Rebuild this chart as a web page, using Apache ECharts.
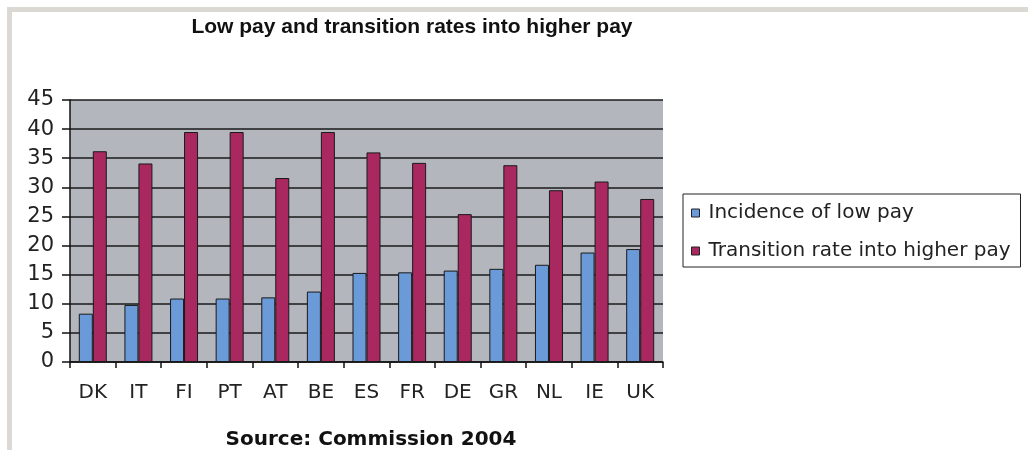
<!DOCTYPE html>
<html>
<head>
<meta charset="utf-8">
<script src="https://cdn.jsdelivr.net/npm/echarts@6/dist/echarts.min.js"></script>
<style>
  html, body { margin: 0; padding: 0; background: #fff; }
  #chart { width: 1028px; height: 450px; }
</style>
</head>
<body>
<div id="chart"></div>
<script>
// data
var countries = ['DK', 'IT', 'FI', 'PT', 'AT', 'BE', 'ES', 'FR', 'DE', 'GR', 'NL', 'IE', 'UK'];
var lowPay = [8.3, 9.8, 10.9, 10.9, 11.1, 12.1, 15.3, 15.4, 15.7, 16.0, 16.7, 18.8, 19.4];
var transition = [36.2, 34.1, 39.5, 39.5, 31.6, 39.5, 36.0, 34.2, 25.4, 33.8, 29.5, 31.0, 28.0];
var yTicks = [0, 5, 10, 15, 20, 25, 30, 35, 40, 45];

var chart = echarts.init(document.getElementById('chart'));

// the source picture is stretched sideways, a wide font gets closer
var wideFont = 'DejaVu Sans, Verdana, sans-serif';

var option = {
  backgroundColor: '#ffffff',
  animation: false,
  textStyle: { fontFamily: wideFont },
  graphic: [
    // light grey frame on the top and left
    { type: 'rect', left: 7, top: 7, shape: { width: 1021, height: 5 }, style: { fill: '#dcd8d4' }, silent: true },
    { type: 'rect', left: 7, top: 7, shape: { width: 5, height: 443 }, style: { fill: '#dcd8d4' }, silent: true }
  ],
  title: [
    {
      text: 'Low pay and transition rates into higher pay',
      left: 407, top: 12, textAlign: 'center',
      textStyle: { fontSize: 21, fontWeight: 'bold', color: '#111', fontFamily: 'Liberation Sans, Arial, sans-serif' }
    },
    {
      text: 'Source: Commission 2004',
      left: 366, top: 425, textAlign: 'center',
      textStyle: { fontSize: 20, fontWeight: 'bold', color: '#111' }
    }
  ],
  legend: {
    orient: 'vertical',
    left: 683, top: 194,
    padding: [9, 10, 6, 8],
    itemGap: 18,
    itemWidth: 8, itemHeight: 8,
    borderColor: '#222', borderWidth: 1,
    textStyle: { fontSize: 20, color: '#222', padding: [0, 0, 0, 4] },
    data: [
      { name: 'Incidence of low pay', icon: 'rect', itemStyle: { borderColor: '#222', borderWidth: 1 } },
      { name: 'Transition rate into higher pay', icon: 'rect', itemStyle: { borderColor: '#222', borderWidth: 1 } }
    ]
  },
  grid: { left: 70, right: 365, top: 100, bottom: 88, show: true, backgroundColor: '#b3b6bd', borderWidth: 0 },
  xAxis: {
    type: 'category',
    data: countries,
    boundaryGap: true,
    axisLine: { lineStyle: { color: '#111', width: 1.5 } },
    axisTick: { show: true, length: 6, lineStyle: { color: '#111', width: 1.5 } },
    axisLabel: { fontSize: 20, color: '#222', margin: 21 }
  },
  yAxis: {
    type: 'value',
    min: yTicks[0], max: yTicks[yTicks.length - 1], interval: 5,
    axisLine: { show: true, lineStyle: { color: '#111', width: 1.5 } },
    axisTick: { show: true, length: 8, lineStyle: { color: '#111', width: 1.5 } },
    axisLabel: { fontSize: 21, color: '#222', margin: 16 },
    splitLine: { show: true, lineStyle: { color: '#1a1a1a', width: 1.5 } }
  },
  series: [
    {
      name: 'Incidence of low pay',
      type: 'bar',
      data: lowPay,
      barWidth: 14,
      barGap: '0%',
      itemStyle: { color: '#6a9ad8', borderColor: '#1a1a1a', borderWidth: 1 }
    },
    {
      name: 'Transition rate into higher pay',
      type: 'bar',
      data: transition,
      barWidth: 14,
      itemStyle: { color: '#a8285f', borderColor: '#1a1a1a', borderWidth: 1 }
    }
  ]
};

chart.setOption(option);
</script>
</body>
</html>
